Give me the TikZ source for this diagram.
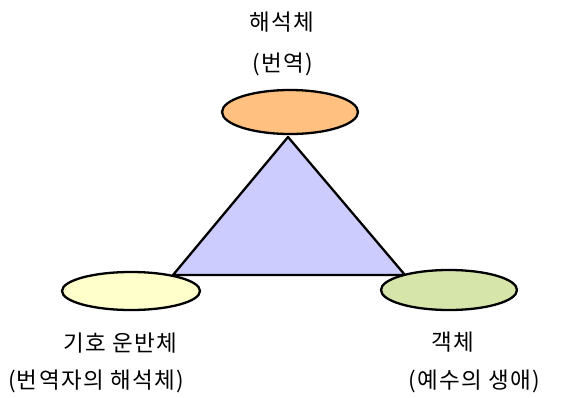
\documentclass[tikz,border=0pt]{standalone}
\usepackage{fontspec}
\newfontfamily\kr[LetterSpace=6]{Noto Sans CJK KR}
\usetikzlibrary{shapes.geometric}
\definecolor{orng}{RGB}{255,192,128}
\definecolor{yelw}{RGB}{255,255,204}
\definecolor{grn}{RGB}{214,230,170}
\definecolor{tri}{RGB}{204,204,255}
\tikzset{
  oval/.style={ellipse, draw=black, line width=2.3pt, minimum width=136pt, minimum height=40pt, inner sep=0pt},
  lbl/.style={font=\kr\fontsize{22.5pt}{26pt}\selectfont, inner sep=0pt, anchor=center}
}
\begin{document}
\begin{tikzpicture}[x=1pt,y=-1pt]
\useasboundingbox (0,0) rectangle (568,397);
\coordinate (A) at (288,137);
\coordinate (B) at (173,275);
\coordinate (C) at (405,275);
\filldraw[fill=tri, draw=black, line width=2.3pt, line join=round] (A) -- (B) -- (C) -- cycle;
\node[oval, fill=orng, minimum height=44pt] (top) at (290,112) {};
\node[oval, fill=yelw, minimum width=138pt, minimum height=38pt] (left) at (131,291) {};
\node[oval, fill=grn, minimum height=40pt] (right) at (449,290) {};
\node[lbl] (t1) at (282,22) {해석체};
\node[lbl] (t2) at (283,64) {(번역)};
\node[lbl] (l1) at (120,343) {기호 운반체};
\node[lbl] (l2) at (96,381) {(번역자의 해석체)};
\node[lbl] (r1) at (453,342) {객체};
\node[lbl] (r2) at (474,381) {(예수의 생애)};
\end{tikzpicture}
\end{document}
